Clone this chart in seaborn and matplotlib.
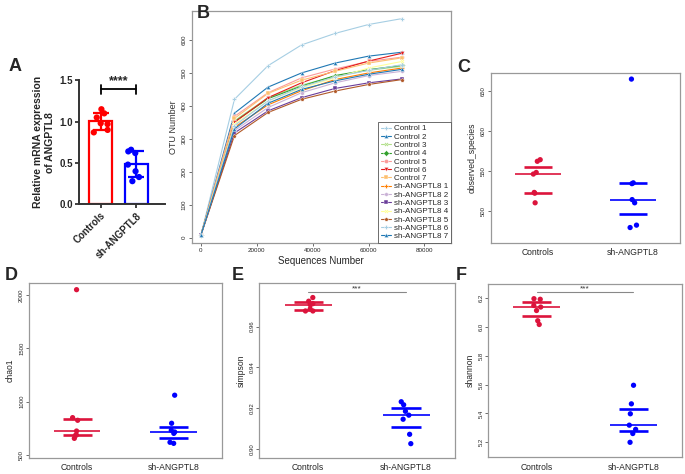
import numpy as np
import pandas as pd
import matplotlib
matplotlib.use("Agg")
from matplotlib import pyplot as plt
import seaborn as sns

groups = ["Controls", "sh-ANGPTL8"]

# A - relative mRNA expression of ANGPTL8
mrna_ctrl = [1.15, 1.10, 1.05, 0.98, 0.97, 0.90, 0.87]
mrna_sh = [0.66, 0.64, 0.62, 0.48, 0.40, 0.33, 0.28]

# B - rarefaction curves
seq_depth = [0, 12000, 24000, 36000, 48000, 60000, 72000]
ctrl_1 = [8, 420, 522, 585, 620, 647, 665]
ctrl_2 = [8, 378, 457, 500, 530, 551, 563]
ctrl_3 = [8, 355, 425, 463, 490, 508, 520]
ctrl_4 = [8, 352, 422, 460, 492, 510, 523]
ctrl_5 = [8, 368, 440, 485, 512, 535, 548]
ctrl_6 = [8, 350, 425, 470, 507, 536, 560]
ctrl_7 = [8, 362, 438, 478, 505, 530, 546]
sh_1 = [8, 335, 403, 446, 480, 500, 515]
sh_2 = [8, 325, 395, 440, 470, 492, 505]
sh_3 = [8, 318, 385, 425, 453, 470, 482]
sh_4 = [8, 345, 415, 455, 485, 515, 535]
sh_5 = [8, 310, 380, 420, 445, 465, 480]
sh_6 = [8, 340, 415, 458, 488, 508, 525]
sh_7 = [8, 330, 408, 450, 476, 496, 511]
sample_names = ["Control 1", "Control 2", "Control 3", "Control 4", "Control 5",
                "Control 6", "Control 7", "sh-ANGPTL8 1", "sh-ANGPTL8 2",
                "sh-ANGPTL8 3", "sh-ANGPTL8 4", "sh-ANGPTL8 5", "sh-ANGPTL8 6",
                "sh-ANGPTL8 7"]
curves = [ctrl_1, ctrl_2, ctrl_3, ctrl_4, ctrl_5, ctrl_6, ctrl_7,
          sh_1, sh_2, sh_3, sh_4, sh_5, sh_6, sh_7]

# C-F - alpha diversity
observed_ctrl = [562, 564, 546, 548, 522, 523, 510]
observed_sh = [665, 534, 535, 514, 510, 479, 482]
chao1_ctrl = [2053, 849, 824, 723, 686, 683, 654]
chao1_sh = [1060, 796, 730, 714, 701, 617, 607]
simpson_ctrl = [0.9743, 0.9725, 0.9713, 0.9707, 0.9687, 0.9677, 0.9677]
simpson_sh = [0.9231, 0.9216, 0.9184, 0.9165, 0.9145, 0.9071, 0.9025]
shannon_ctrl = [6.197, 6.193, 6.150, 6.139, 6.115, 6.044, 6.018]
shannon_sh = [5.596, 5.467, 5.398, 5.319, 5.290, 5.261, 5.200]

sns.set_style("white")
plt.rcParams["font.family"] = ["Liberation Sans", "DejaVu Sans"]

fig = plt.figure(figsize=(6.85, 4.74), dpi=100)


def px_axes(l, t, r, b):
    return fig.add_axes([l / 685, 1 - b / 474, (r - l) / 685, (b - t) / 474])


# ---------------- A ----------------
axA = px_axes(79, 80.3, 165, 204.3)
dfA = pd.DataFrame({"group": [groups[0]] * len(mrna_ctrl) + [groups[1]] * len(mrna_sh),
                    "value": mrna_ctrl + mrna_sh})
colA = ["#FF0000", "#0000FF"]
sns.barplot(data=dfA, x="group", y="value", hue="group", palette=colA, fill=False,
            errorbar=None, width=0.65, linewidth=1.6, legend=False, ax=axA)
np.random.seed(3)
sns.stripplot(data=dfA, x="group", y="value", hue="group", palette=colA, jitter=0.25,
              size=4.5, legend=False, ax=axA, zorder=3)
for i, vals in enumerate([mrna_ctrl, mrna_sh]):
    axA.errorbar(i, np.mean(vals), yerr=np.std(vals, ddof=1), color=colA[i],
                 capsize=6, capthick=1.6, elinewidth=1.6, zorder=4)
axA.plot([0, 1], [1.39, 1.39], color="black", lw=1.3)
for xi in [0, 1]:
    axA.plot([xi, xi], [1.34, 1.44], color="black", lw=1.3)
axA.text(0.5, 1.42, "****", ha="center", va="bottom", fontsize=9, fontweight="bold")
axA.set_ylim(0, 1.5)
axA.set_xlim(-0.6, 1.8)
axA.set_yticks([0, 0.5, 1.0, 1.5])
axA.set_yticklabels(["0.0", "0.5", "1.0", "1.5"], fontsize=7, fontweight="bold")
axA.set_xticks([0, 1])
axA.set_xticklabels(groups, rotation=45, ha="right", rotation_mode="anchor",
                    fontsize=7, fontweight="bold")
axA.set_xlabel("")
axA.set_ylabel("Relative mRNA expression\nof ANGPTL8", fontsize=7.5, fontweight="bold",
               labelpad=3)
axA.tick_params(axis="both", direction="out", length=3, width=1.3, color="#333333",
                left=True, bottom=True, pad=1.5)
for s in ["top", "right"]:
    axA.spines[s].set_visible(False)
for s in ["left", "bottom"]:
    axA.spines[s].set_linewidth(1.4)
    axA.spines[s].set_color("#333333")
for art in axA.lines + axA.collections:
    art.set_clip_on(False)

# ---------------- B ----------------
axB = px_axes(191.7, 11, 450.7, 243)
dfB = pd.DataFrame({
    "depth": seq_depth * len(curves),
    "otu": [v for c in curves for v in c],
    "sample": [n for n in sample_names for _ in seq_depth],
})
paired = sns.color_palette("Paired", 12)
pal14 = [paired[i % 12] for i in range(14)]
mk = ["P", "^", "X", "D", "o", "v", "s", "P", "h", "s", "X", "p", "P", "^"]
sns.lineplot(data=dfB, x="depth", y="otu", hue="sample", style="sample",
             palette=pal14, markers=mk, dashes=False, markersize=3, linewidth=0.8,
             markeredgewidth=0.3, ax=axB)
axB.set_xlim(-3300, 89400)
axB.set_ylim(-16, 688)
axB.set_xticks([0, 20000, 40000, 60000, 80000])
axB.set_xticklabels(["0", "20000", "40000", "60000", "80000"], fontsize=4.5)
axB.set_yticks(range(0, 700, 100))
axB.set_yticklabels([str(v) for v in range(0, 700, 100)], fontsize=4.5, rotation=90,
                    va="center")
axB.tick_params(axis="both", direction="out", length=2, width=0.6, color="#555555",
                left=True, bottom=True, pad=1.5)
axB.set_xlabel("Sequences Number", fontsize=7, labelpad=2)
axB.set_ylabel("OTU Number", fontsize=6.5, labelpad=3, color="#333333")
for s in axB.spines.values():
    s.set_color("#999999")
    s.set_linewidth(0.9)
leg = axB.legend(loc="lower right", borderaxespad=0, fontsize=5.8, handlelength=1.3,
                 handletextpad=0.3, labelspacing=0.08, borderpad=0.35, fancybox=False,
                 edgecolor="#555555", framealpha=1)
leg.get_frame().set_linewidth(0.6)

# ---------------- C-F ----------------
crimson = "#DC143C"
blue = "#0000FF"


def alpha_panel(ax, ctrl, sh, ylabel, ylim, ticks, ticklabels, star_y=None, seed=0):
    df = pd.DataFrame({"group": [groups[0]] * len(ctrl) + [groups[1]] * len(sh),
                       "value": ctrl + sh})
    np.random.seed(seed)
    sns.stripplot(data=df, x="group", y="value", hue="group", palette=[crimson, blue],
                  jitter=0.05, size=3.8, linewidth=0, legend=False, ax=ax, zorder=3)
    for i, vals in enumerate([ctrl, sh]):
        c = [crimson, blue][i]
        q1, med, q3 = np.percentile(vals, [25, 50, 75])
        ax.hlines(med, i - 0.24, i + 0.24, color=c, lw=1.2, zorder=2)
        ax.hlines([q1, q3], i - 0.15, i + 0.15, color=c, lw=1.9, zorder=2)
    if star_y is not None:
        ax.plot([0, 1], [star_y, star_y], color="#888888", lw=0.8)
        ax.text(0.5, star_y, "***", ha="center", va="bottom", fontsize=6, color="#333333")
    ax.set_xlim(-0.5, 1.5)
    ax.set_ylim(*ylim)
    ax.set_yticks(ticks)
    ax.set_yticklabels(ticklabels, rotation=90, va="center", fontsize=4.3)
    ax.set_xticks([0, 1])
    ax.set_xticklabels(groups, fontsize=6.2)
    ax.tick_params(axis="y", direction="out", length=2, width=0.6, color="#555555",
                   left=True, pad=1.5)
    ax.tick_params(axis="x", length=0, pad=4)
    ax.set_xlabel("")
    ax.set_ylabel(ylabel, fontsize=6.2, labelpad=3)
    for s in ax.spines.values():
        s.set_color("#999999")
        s.set_linewidth(0.9)


axC = px_axes(490.7, 72.7, 680.3, 242.7)
alpha_panel(axC, observed_ctrl, observed_sh, "observed_species", (460, 673),
            [500, 550, 600, 650], ["500", "550", "600", "650"], seed=1)

axD = px_axes(29, 283.3, 221.7, 457.7)
alpha_panel(axD, chao1_ctrl, chao1_sh, "chao1", (472, 2113),
            [500, 1000, 1500, 2000], ["500", "1000", "1500", "2000"], seed=2)

axE = px_axes(259.3, 283.3, 455, 457.7)
alpha_panel(axE, simpson_ctrl, simpson_sh, "simpson", (0.8956, 0.9813),
            [0.90, 0.92, 0.94, 0.96], ["0.90", "0.92", "0.94", "0.96"],
            star_y=0.9769, seed=4)

axF = px_axes(488.3, 284, 681.7, 457)
alpha_panel(axF, shannon_ctrl, shannon_sh, "shannon", (5.098, 6.299),
            [5.2, 5.4, 5.6, 5.8, 6.0, 6.2], ["5.2", "5.4", "5.6", "5.8", "6.0", "6.2"],
            star_y=6.242, seed=5)

# panel letters
for letter, x, y in [("A", 9, 67), ("B", 197, 13), ("C", 457, 68),
                     ("D", 5, 276), ("E", 232, 276), ("F", 456, 276)]:
    fig.text(x / 685, 1 - y / 474, letter, fontsize=13, fontweight="bold",
             ha="left", va="center")

fig.savefig("out.png", dpi=100)
